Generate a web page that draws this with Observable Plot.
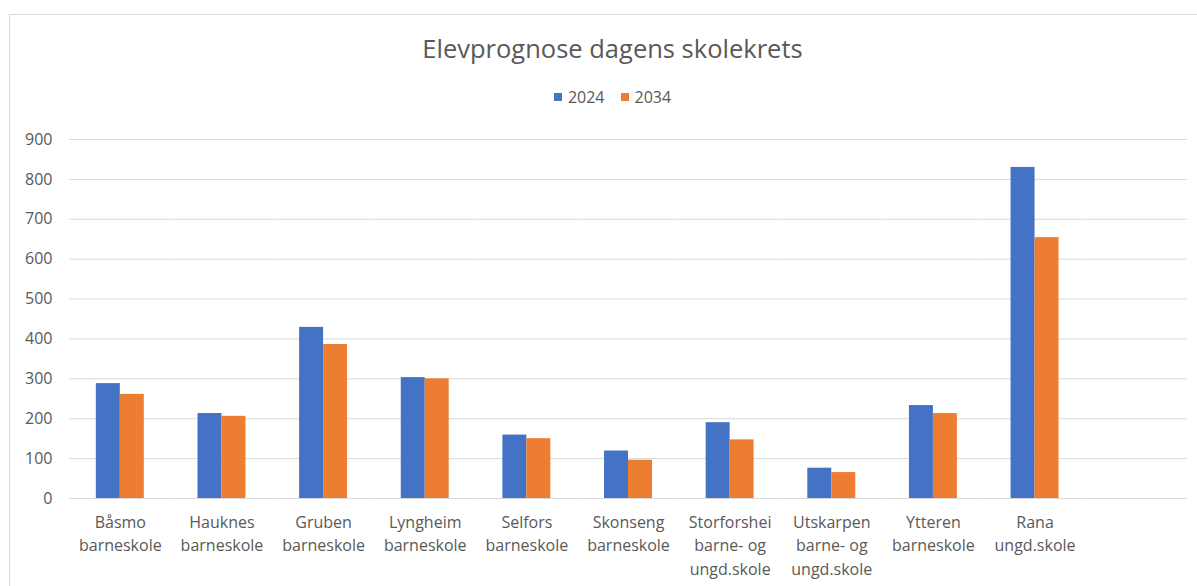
<!DOCTYPE html>
<html>
<head>
<meta charset="utf-8">
<script src="https://cdn.jsdelivr.net/npm/d3@7"></script>
<script src="https://cdn.jsdelivr.net/npm/@observablehq/plot@0.6"></script>
<style>
  html, body { margin: 0; padding: 0; background: #fff; }
  body { width: 1197px; height: 586px; overflow: hidden; font-family: "Open Sans", sans-serif; }
  #wrap { position: relative; width: 1197px; height: 586px; }
  #frame { position: absolute; left: 9px; top: 14px; width: 1188px; height: 572px;
           border-left: 1px solid #d9d9d9; border-top: 1px solid #d9d9d9; box-sizing: border-box; }
  #header { position: relative; height: 120px; }
  #title { position: absolute; top: 30px; left: 21px; width: 1183px; text-align: center;
           font-size: 25.5px; color: #595959; line-height: 36px; white-space: nowrap; }
  #legend { position: absolute; top: 86px; left: 21px; width: 1183px; display: flex; justify-content: center;
            gap: 16px; font-size: 16px; color: #595959; line-height: 22px; }
  .item { display: flex; align-items: center; gap: 6px; }
  .sw { width: 8px; height: 8px; display: inline-block; }
  #chart { position: relative; }
</style>
</head>
<body>
<div id="wrap">
  <div id="frame"></div>
  <div id="header">
    <div id="title"></div>
    <div id="legend"></div>
  </div>
  <div id="chart"></div>
</div>
<script>
const title = "Elevprognose dagens skolekrets";
const schools = [
  "Båsmo\nbarneskole",
  "Hauknes\nbarneskole",
  "Gruben\nbarneskole",
  "Lyngheim\nbarneskole",
  "Selfors\nbarneskole",
  "Skonseng\nbarneskole",
  "Storforshei\nbarne- og\nungd.skole",
  "Utskarpen\nbarne- og\nungd.skole",
  "Ytteren\nbarneskole",
  "Rana\nungd.skole"
];
const emptySlot = " ";
const years = ["2024", "2034"];
const values2024 = [288, 213, 429, 303, 159, 119, 190, 76, 233, 830];
const values2034 = [261, 206, 386, 300, 150, 96, 147, 65, 213, 654];
const yTicks = [0, 100, 200, 300, 400, 500, 600, 700, 800, 900];
const colors = ["#4472C4", "#ED7D31"];

document.getElementById("title").textContent = title;
const legend = document.getElementById("legend");
years.forEach((yr, i) => {
  const it = document.createElement("div");
  it.className = "item";
  const sw = document.createElement("span");
  sw.className = "sw";
  sw.style.background = colors[i];
  const tx = document.createElement("span");
  tx.textContent = yr;
  it.appendChild(sw); it.appendChild(tx);
  legend.appendChild(it);
});

const rows = [];
schools.forEach((s, i) => {
  rows.push({school: s, year: years[0], value: values2024[i]});
  rows.push({school: s, year: years[1], value: values2034[i]});
});
// the reference keeps an empty category slot at the right end
years.forEach(yr => rows.push({school: emptySlot, year: yr, value: null}));

const chart = Plot.plot({
  width: 1197,
  height: 466,
  marginLeft: 69,
  marginRight: 10,
  marginTop: 19,
  marginBottom: 88,
  style: {fontFamily: "'Open Sans', sans-serif", fontSize: "16px", color: "#595959", background: "transparent"},
  fx: {domain: [...schools, emptySlot], padding: 0, round: false, label: null, axis: null},
  x: {domain: years, paddingInner: 0, paddingOuter: 1.12, round: false, axis: null},
  y: {domain: [0, 900], label: null},
  color: {domain: years, range: colors},
  marks: [
    Plot.gridY(yTicks, {stroke: "#d9d9d9", strokeOpacity: 1, strokeWidth: 1}),
    Plot.axisY(yTicks, {tickSize: 0, tickPadding: 17, label: null, fill: "#595959", fontSize: 16}),
    Plot.axisFx({anchor: "bottom", tickSize: 0, tickPadding: 13, label: null, fill: "#595959", fontSize: 16, lineHeight: 1.46}),
    Plot.barY(rows, {fx: "school", x: "year", y: "value", fill: "year"})
  ]
});
document.getElementById("chart").appendChild(chart);
</script>
</body>
</html>
